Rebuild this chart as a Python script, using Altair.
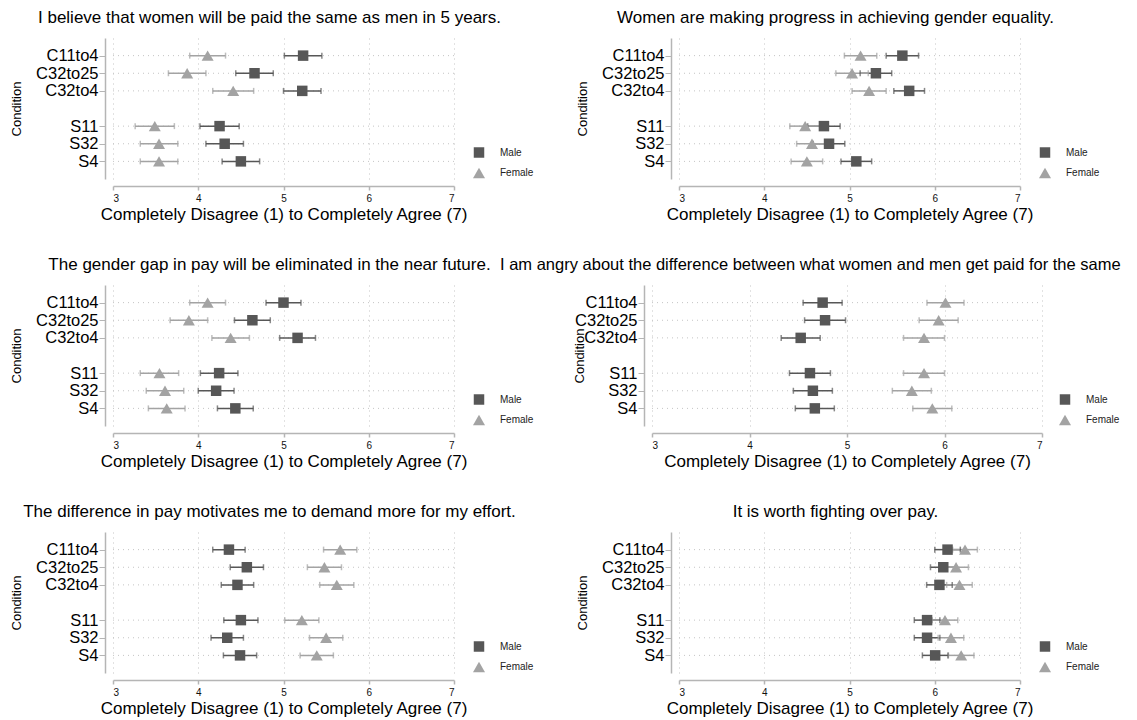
import altair as alt
import pandas as pd

FONT = "Liberation Sans"

conditions = ["C11to4", "C32to25", "C32to4", "S11", "S32", "S4"]
gap = " "
y_domain = conditions[:3] + [gap] + conditions[3:]
sexes = ["Male", "Female"]
palette = ["#575757", "#a3a3a3"]
shapes = ["square", "triangle-up"]
x_ticks = [3, 4, 5, 6, 7]
x_title = "Completely Disagree (1) to Completely Agree (7)"
y_title = "Condition"

titles = [
    "I believe that women will be paid the same as men in 5 years.",
    "Women are making progress in achieving gender equality.",
    "The gender gap in pay will be eliminated in the near future.",
    "I am angry about the difference between what women and men get paid for the same",
    "The difference in pay motivates me to demand more for my effort.",
    "It is worth fighting over pay.",
]

# Panel 1
p1_male_mean = [5.23, 4.66, 5.22, 4.25, 4.31, 4.50]
p1_male_ci = [0.22, 0.22, 0.22, 0.23, 0.22, 0.22]
p1_female_mean = [4.11, 3.87, 4.41, 3.49, 3.54, 3.54]
p1_female_ci = [0.21, 0.22, 0.24, 0.23, 0.22, 0.22]

# Panel 2
p2_male_mean = [5.62, 5.31, 5.70, 4.70, 4.76, 5.08]
p2_male_ci = [0.19, 0.185, 0.18, 0.19, 0.185, 0.18]
p2_female_mean = [5.13, 5.03, 5.23, 4.48, 4.56, 4.50]
p2_female_ci = [0.19, 0.19, 0.20, 0.18, 0.18, 0.185]

# Panel 3
p3_male_mean = [5.00, 4.635, 5.165, 4.245, 4.21, 4.435]
p3_male_ci = [0.205, 0.21, 0.21, 0.22, 0.21, 0.21]
p3_female_mean = [4.11, 3.89, 4.38, 3.545, 3.61, 3.63]
p3_female_ci = [0.21, 0.22, 0.22, 0.225, 0.22, 0.215]

# Panel 4
p4_male_mean = [4.75, 4.775, 4.525, 4.62, 4.65, 4.67]
p4_male_ci = [0.20, 0.21, 0.20, 0.21, 0.20, 0.20]
p4_female_mean = [6.01, 5.94, 5.79, 5.79, 5.665, 5.875]
p4_female_ci = [0.19, 0.20, 0.21, 0.21, 0.20, 0.20]

# Panel 5
p5_male_mean = [4.36, 4.57, 4.46, 4.50, 4.34, 4.49]
p5_male_ci = [0.19, 0.195, 0.19, 0.20, 0.19, 0.195]
p5_female_mean = [5.665, 5.48, 5.625, 5.215, 5.50, 5.39]
p5_female_ci = [0.195, 0.20, 0.20, 0.20, 0.195, 0.195]

# Panel 6
p6_male_mean = [6.15, 6.10, 6.055, 5.91, 5.91, 6.005]
p6_male_ci = [0.15, 0.15, 0.15, 0.15, 0.15, 0.15]
p6_female_mean = [6.355, 6.25, 6.29, 6.12, 6.19, 6.31]
p6_female_ci = [0.145, 0.145, 0.15, 0.15, 0.15, 0.15]

GRID = "#c4c4c4"
AXIS = "#b5b5b5"
W = 341
H = 141


def make_panel(title, mm, mc, fm, fc, x_range=None, y_offset=8, legend_x=W + 19,
               cond_x=-89, title_anchor="middle", title_dx=-14, title_size=17):
    rows = []
    for sex, means, cis in (("Male", mm, mc), ("Female", fm, fc)):
        for cond, m, e in zip(conditions, means, cis):
            rows.append({"Condition": cond, "Sex": sex, "mean": m,
                         "lo": round(m - e, 3), "hi": round(m + e, 3)})
    df = pd.DataFrame(rows)
    grid_df = pd.DataFrame({"Condition": conditions})

    if x_range is None:
        xs = alt.Scale(domain=[x_ticks[0], x_ticks[-1]], nice=False, zero=False)
    else:
        xs = alt.Scale(domain=[x_ticks[0], x_ticks[-1]], nice=False, zero=False, range=x_range)
    ys = alt.Scale(type="point", domain=y_domain, padding=1)

    leg = alt.Legend(title=None, orient="none", legendX=legend_x, legendY=109,
                     symbolSize=120, symbolStrokeWidth=0, labelFontSize=10, labelFont=FONT,
                     labelColor="#222222", labelOffset=15, rowPadding=9, padding=0,
                     symbolOpacity=1)
    color = alt.Color("Sex:N", scale=alt.Scale(domain=sexes, range=palette), legend=leg)
    shape = alt.Shape("Sex:N", scale=alt.Scale(domain=sexes, range=shapes), legend=leg)
    size = alt.Size("Sex:N", scale=alt.Scale(domain=sexes, range=[110, 144]), legend=None)

    x_axis = alt.Axis(values=x_ticks, format="d", grid=True, gridDash=[1, 4], gridColor=GRID,
                      gridWidth=1, domainColor=AXIS, domainWidth=1.5, tickColor=AXIS,
                      tickWidth=1.5, tickSize=4, labelFontSize=10, labelFont=FONT,
                      labelColor="#111111", labelPadding=3, titleFontSize=17, titleFont=FONT,
                      titleFontWeight="normal", titleColor="#000000", titlePadding=3.5, offset=7)
    y_axis = alt.Axis(values=conditions, grid=False, domainColor=AXIS, domainWidth=1.5,
                      tickColor=AXIS, tickWidth=1, tickSize=6, labelFontSize=16.5, labelFont=FONT,
                      labelColor="#000000", labelPadding=1, titleFontSize=13, titleFont=FONT,
                      titleFontWeight="normal", titleColor="#000000", titleAngle=270,
                      titleBaseline="middle", titleX=cond_x, offset=y_offset)

    y = alt.Y("Condition:N", scale=ys, axis=y_axis, title=y_title)

    grid = alt.Chart(grid_df).mark_rule(strokeDash=[1, 4], color=GRID, strokeWidth=1).encode(
        x=alt.X(datum=x_ticks[0], scale=xs, axis=x_axis, title=x_title),
        x2=alt.X2(datum=x_ticks[-1]), y=y)

    base = alt.Chart(df)
    rules = base.mark_rule(strokeWidth=1.5).encode(
        x=alt.X("lo:Q", scale=xs, axis=x_axis, title=x_title),
        x2="hi:Q", y=y, color=color)
    cap_lo = base.mark_tick(orient="vertical", size=6, thickness=1.5).encode(
        x=alt.X("lo:Q", scale=xs, axis=x_axis, title=x_title), y=y, color=color)
    cap_hi = base.mark_tick(orient="vertical", size=6, thickness=1.5).encode(
        x=alt.X("hi:Q", scale=xs, axis=x_axis, title=x_title), y=y, color=color)
    pts = base.mark_point(filled=True, opacity=1, strokeWidth=0).encode(
        x=alt.X("mean:Q", scale=xs, axis=x_axis, title=x_title), y=y,
        color=color, shape=shape, size=size)

    tp = alt.TitleParams(text=title, fontSize=title_size, font=FONT, fontWeight="normal",
                         color="#000000", anchor=title_anchor, frame="group", offset=11.5,
                         dx=title_dx)
    return alt.layer(grid, rules, cap_lo, cap_hi, pts).properties(width=W, height=H, title=tp)


p1 = make_panel(titles[0], p1_male_mean, p1_male_ci, p1_female_mean, p1_female_ci)
p2 = make_panel(titles[1], p2_male_mean, p2_male_ci, p2_female_mean, p2_female_ci)
p3 = make_panel(titles[2], p3_male_mean, p3_male_ci, p3_female_mean, p3_female_ci)
p4 = make_panel(titles[3], p4_male_mean, p4_male_ci, p4_female_mean, p4_female_ci,
                x_range=[-27, 363], y_offset=35, legend_x=380, cond_x=-65,
                title_anchor="start", title_dx=-179, title_size=16.5)
p5 = make_panel(titles[4], p5_male_mean, p5_male_ci, p5_female_mean, p5_female_ci)
p6 = make_panel(titles[5], p6_male_mean, p6_male_ci, p6_female_mean, p6_female_ci)

chart = alt.concat(
    p1, p2, p3, p4, p5, p6, columns=2,
    spacing={"row": 106, "column": 225}, bounds="flush",
).resolve_scale(
    color="independent", shape="independent", size="independent"
).resolve_legend(
    color="independent", shape="independent", size="independent"
).properties(
    padding={"left": 2, "top": 0, "right": 0, "bottom": 0}
).configure(font=FONT).configure_view(stroke=None)

chart.save("out.html", embed_options={"renderer": "svg", "actions": False})
